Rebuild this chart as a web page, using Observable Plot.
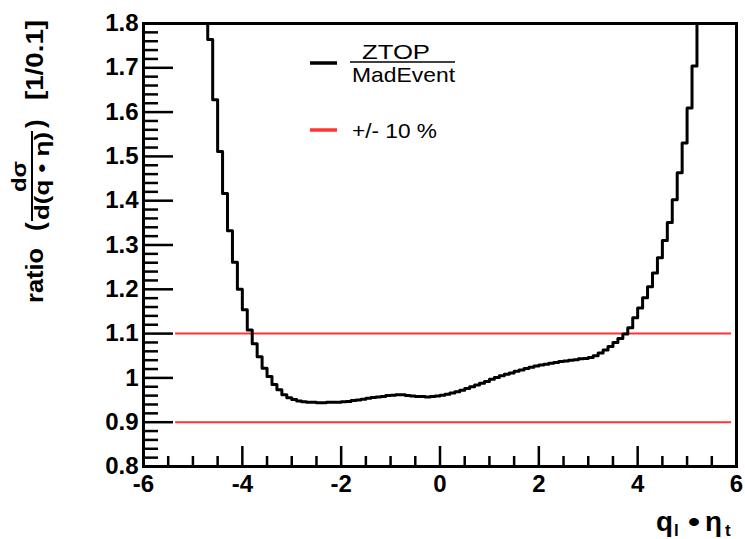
<!DOCTYPE html>
<html>
<head>
<meta charset="utf-8">
<script src="https://cdn.jsdelivr.net/npm/d3@7"></script>
<script src="https://cdn.jsdelivr.net/npm/@observablehq/plot@0.6"></script>
<style>
  html, body { margin: 0; padding: 0; background: white; }
  #chart { width: 745px; height: 539px; }
</style>
</head>
<body>
<div id="chart"></div>
<script>
// ---- data ----
// histogram: bin width 0.1, bins start at -5.0 (left edges), last bin starts at 5.4
const binWidth = 0.1;
const binStart = -5.0;
const ratioValues = [
  2.40, 2.15, 1.95, 1.764, 1.628, 1.511, 1.416, 1.332, 1.261, 1.200,   // -5.0 .. -4.1
  1.154, 1.108, 1.077, 1.048, 1.022, 1.003, 0.985, 0.973, 0.962, 0.955, // -4.0 .. -3.1
  0.951, 0.948, 0.946, 0.945, 0.945, 0.944, 0.944, 0.945, 0.945, 0.945, // -3.0 .. -2.1
  0.946, 0.947, 0.949, 0.950, 0.952, 0.954, 0.956, 0.957, 0.958, 0.960, // -2.0 .. -1.1
  0.961, 0.962, 0.962, 0.960, 0.959, 0.958, 0.958, 0.957, 0.958, 0.959, // -1.0 .. -0.1
  0.961, 0.963, 0.966, 0.969, 0.972, 0.976, 0.980, 0.984, 0.988, 0.992, //  0.0 ..  0.9
  0.997, 1.001, 1.005, 1.008, 1.011, 1.015, 1.018, 1.021, 1.024, 1.027, //  1.0 ..  1.9
  1.029, 1.031, 1.033, 1.035, 1.037, 1.038, 1.040, 1.041, 1.043, 1.044, //  2.0 ..  2.9
  1.046, 1.050, 1.056, 1.063, 1.071, 1.080, 1.089, 1.099, 1.113, 1.136, //  3.0 ..  3.9
  1.158, 1.181, 1.206, 1.237, 1.271, 1.310, 1.351, 1.402, 1.463, 1.530, //  4.0 ..  4.9
  1.609, 1.704, 1.90, 2.10, 2.40                                         //  5.0 ..  5.4
];
const bandLevels = [0.9, 1.1];          // +/- 10 % lines
const bandXRange = [-5.35, 5.9];        // extent of the +/- 10 % lines
const xMajorTicks = [-6, -4, -2, 0, 2, 4, 6];
const yMajorTicks = [0.8, 0.9, 1, 1.1, 1.2, 1.3, 1.4, 1.5, 1.6, 1.7, 1.8];
const xMinorStep = 0.5;
const yMinorStep = 0.02;
const legendLabels = { num: "ZTOP", den: "MadEvent", band: "+/- 10 %" };

// ---- build table ----
const hist = ratioValues.map((v, i) => ({ x: +(binStart + i * binWidth).toFixed(2), y: v }));
hist.push({ x: +(binStart + ratioValues.length * binWidth).toFixed(2), y: ratioValues[ratioValues.length - 1] });
const xMinor = d3.range(-6, 6.0001, xMinorStep).map(d => +d.toFixed(2)).filter(d => !xMajorTicks.includes(d));
const yMinor = d3.range(0.8, 1.8001, yMinorStep).map(d => +d.toFixed(2)).filter(d => !yMajorTicks.some(t => Math.abs(t - d) < 1e-6));

const W = 745, H = 539;
const mL = 143, mR = 9, mT = 23, mB = 73;
const fw = W - mL - mR, fh = H - mT - mB;
const FONT = "'Liberation Sans', Arial, Helvetica, sans-serif";

const svg = Plot.plot({
  width: W, height: H,
  marginLeft: mL, marginRight: mR, marginTop: mT, marginBottom: mB,
  x: { domain: [-6, 6], axis: null },
  y: { domain: [0.8, 1.8], axis: null },
  style: { fontFamily: FONT, background: "white", color: "black" },
  marks: [
    Plot.ruleY(bandLevels, { x1: bandXRange[0], x2: bandXRange[1], stroke: "#ff3333", strokeWidth: 2 }),
    Plot.line(hist, { x: "x", y: "y", curve: "step-after", stroke: "black", strokeWidth: 3, clip: true }),
    Plot.tickY(yMinor, { y: d => d, insetRight: fw - 15, stroke: "black", strokeWidth: 2.5 }),
    Plot.tickY(yMajorTicks, { y: d => d, insetRight: fw - 30, stroke: "black", strokeWidth: 2.5 }),
    Plot.tickX(xMinor, { x: d => d, insetTop: fh - 10, stroke: "black", strokeWidth: 2.5 }),
    Plot.tickX(xMajorTicks, { x: d => d, insetTop: fh - 20, stroke: "black", strokeWidth: 2.5 }),
    Plot.frame({ stroke: "black", strokeWidth: 3 }),
    Plot.text(yMajorTicks, { y: d => d, frameAnchor: "left", dx: -5, textAnchor: "end", text: d => String(d),
      fontSize: 24, fontWeight: "bold", fill: "black", ariaLabel: "ytick-label" }),
    Plot.text(xMajorTicks, { x: d => d, frameAnchor: "bottom", dy: 25, text: d => String(d),
      fontSize: 24, fontWeight: "bold", fill: "black", ariaLabel: "xtick-label" })
  ]
});

document.getElementById("chart").appendChild(svg);
const s = d3.select(svg);

// widen glyphs along the baseline (reference font is drawn wide)
function widen(sel, factor) {
  sel.each(function () {
    const len = this.getComputedTextLength();
    this.setAttribute("textLength", (len * factor).toFixed(1));
    this.setAttribute("lengthAdjust", "spacingAndGlyphs");
  });
}
function fit(sel, target) {
  sel.attr("textLength", target).attr("lengthAdjust", "spacingAndGlyphs");
}
widen(s.selectAll("g[aria-label='ytick-label'] text"), 1.25);
widen(s.selectAll("g[aria-label='xtick-label'] text"), 1.25);

// y-axis title (rotated): local (x', y') -> screen (y', -x')
const gy = s.append("g").attr("transform", "rotate(-90)")
  .attr("font-family", FONT).attr("font-weight", "bold").attr("fill", "black")
  .attr("text-anchor", "start");
fit(gy.append("text").attr("x", -303).attr("y", 43).attr("font-size", 24).text("ratio"), 55);
gy.append("text").attr("x", -231).attr("y", 44).attr("font-size", 26).text("(");
fit(gy.append("text").attr("x", -192).attr("y", 26).attr("font-size", 21).text("dσ"), 31);
gy.append("line").attr("x1", -221).attr("x2", -131).attr("y1", 32).attr("y2", 32)
  .attr("stroke", "black").attr("stroke-width", 2);
fit(gy.append("text").attr("x", -220).attr("y", 49).attr("font-size", 21).text("d(q • η)"), 88);
gy.append("text").attr("x", -128).attr("y", 44).attr("font-size", 26).text(")");
fit(gy.append("text").attr("x", -100).attr("y", 43).attr("font-size", 24).text("[1/0.1]"), 80);

// x-axis title
const gx = s.append("g").attr("font-family", FONT).attr("font-weight", "bold").attr("fill", "black")
  .attr("text-anchor", "start");
fit(gx.append("text").attr("x", 656).attr("y", 531).attr("font-size", 27).text("q"), 17);
gx.append("text").attr("x", 674).attr("y", 536).attr("font-size", 17).text("l");
fit(gx.append("text").attr("x", 688).attr("y", 531).attr("font-size", 27).text("•"), 12);
fit(gx.append("text").attr("x", 705).attr("y", 531).attr("font-size", 27).text("η"), 17);
gx.append("text").attr("x", 725).attr("y", 536).attr("font-size", 17).text("t");

// legend
const lg = s.append("g").attr("font-family", FONT).attr("fill", "black").attr("text-anchor", "start");
lg.append("line").attr("x1", 310).attr("x2", 337).attr("y1", 63).attr("y2", 63).attr("stroke", "black").attr("stroke-width", 3.5);
fit(lg.append("text").attr("x", 362).attr("y", 59).attr("font-size", 21).text(legendLabels.num), 68);
lg.append("line").attr("x1", 350).attr("x2", 455).attr("y1", 62).attr("y2", 62).attr("stroke", "black").attr("stroke-width", 1.5);
fit(lg.append("text").attr("x", 352).attr("y", 82).attr("font-size", 21).text(legendLabels.den), 103);
lg.append("line").attr("x1", 310).attr("x2", 337).attr("y1", 130).attr("y2", 130).attr("stroke", "#ff3333").attr("stroke-width", 3.5);
fit(lg.append("text").attr("x", 352).attr("y", 138).attr("font-size", 21).text(legendLabels.band), 85);
</script>
</body>
</html>
